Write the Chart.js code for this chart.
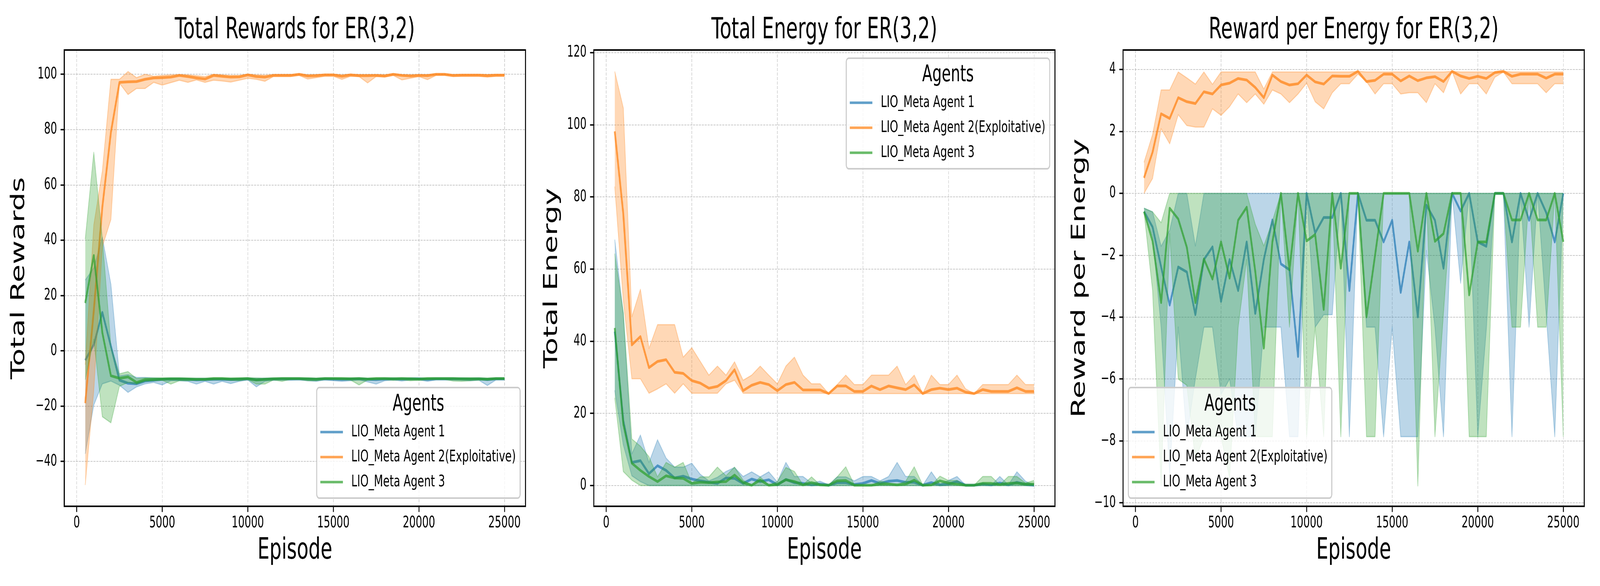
<!DOCTYPE html>
<html>
<head>
<meta charset="utf-8">
<title>ER(3,2) training curves</title>
<script src="https://cdn.jsdelivr.net/npm/chart.js@4.4.1/dist/chart.umd.min.js"></script>
<style>
  html, body { margin: 0; padding: 0; background: #fff; overflow: hidden; }
  #clip { position: absolute; left: 0; top: 0; overflow: hidden; }
  #stage { position: absolute; left: 0; top: 0; width: 6300px; height: 1500px; transform-origin: 0 0; }
  .panel { position: absolute; top: 0; width: 2100px; height: 1500px; }
</style>
</head>
<body>
<div id="clip">
  <div id="stage">
    <div class="panel" style="left:0px"><canvas id="rewards" width="2100" height="1500"></canvas></div>
    <div class="panel" style="left:2100px"><canvas id="energy" width="2100" height="1500"></canvas></div>
    <div class="panel" style="left:4200px"><canvas id="rpe" width="2100" height="1500"></canvas></div>
  </div>
</div>
<script>
// x values (episodes) and tick labels
const episodes = [500, 1000, 1500, 2000, 2500, 3000, 3500, 4000, 4500, 5000,
  5500, 6000, 6500, 7000, 7500, 8000, 8500, 9000, 9500, 10000,
  10500, 11000, 11500, 12000, 12500, 13000, 13500, 14000, 14500, 15000,
  15500, 16000, 16500, 17000, 17500, 18000, 18500, 19000, 19500, 20000,
  20500, 21000, 21500, 22000, 22500, 23000, 23500, 24000, 24500, 25000];
const episodeTicks = [0, 5000, 10000, 15000, 20000, 25000];
const rewardTicks = [-40, -20, 0, 20, 40, 60, 80, 100];
const energyTicks = [0, 20, 40, 60, 80, 100, 120];
const rpeTicks = [-10, -8, -6, -4, -2, 0, 2, 4];
const agentNames = ['LIO_Meta Agent 1', 'LIO_Meta Agent 2(Exploitative)', 'LIO_Meta Agent 3'];

// Total rewards
const rewardA1Mean = [-3.4, 2.2, 13.9, 1.7, -10.6, -11.7, -11.9, -10.9, -10.6, -10.3, -10.2, -10.2, -10.3, -10.5, -10.4, -10.3, -10.3, -10.4, -10.3, -10.1, -10.5, -10.3, -10.2, -10.1, -10.1, -10.1, -10.2, -10.3, -10.1, -10.2, -10.3, -10.2, -10.1, -10.3, -10.4, -10.2, -10.1, -10.2, -10.1, -10.1, -10.3, -10.1, -10.1, -10.1, -10.1, -10.2, -10.1, -10.4, -10.1, -10.1];
const rewardA1High = [25.6, 30.0, 41.1, 24.1, -9.0, -8.6, -9.6, -9.6, -9.8, -9.9, -9.8, -9.8, -9.9, -9.9, -9.9, -9.9, -9.9, -9.9, -9.9, -9.8, -9.9, -9.9, -9.8, -9.8, -9.8, -9.8, -9.8, -9.9, -9.8, -9.8, -9.9, -9.8, -9.8, -9.9, -9.9, -9.8, -9.8, -9.8, -9.8, -9.8, -9.9, -9.8, -9.8, -9.8, -9.8, -9.8, -9.8, -9.9, -9.8, -9.8];
const rewardA1Low = [-37.2, -19.6, -11.9, -10.9, -12.4, -15.0, -13.0, -11.9, -11.4, -12.3, -10.8, -10.8, -11.0, -12.0, -11.0, -12.0, -11.0, -11.8, -11.0, -10.5, -13.0, -11.0, -10.6, -10.5, -10.6, -10.5, -10.8, -11.0, -10.5, -10.8, -11.0, -10.8, -10.5, -11.2, -12.0, -10.8, -10.5, -10.9, -10.5, -10.5, -11.0, -10.5, -10.5, -10.5, -10.6, -10.8, -10.6, -12.5, -10.5, -10.5];
const rewardA2Mean = [-18.9, 14.5, 52.0, 79.0, 97.1, 97.3, 97.4, 98.2, 98.7, 98.8, 99.0, 99.6, 99.2, 98.7, 98.3, 99.6, 99.3, 99.0, 99.1, 99.8, 99.2, 99.0, 99.6, 99.6, 99.6, 100.0, 99.4, 99.5, 99.8, 99.8, 99.3, 99.8, 99.5, 99.5, 99.6, 99.4, 100.0, 99.6, 99.4, 99.6, 99.5, 100.0, 100.0, 99.6, 99.7, 99.7, 99.7, 99.5, 99.7, 99.7];
const rewardA2High = [-5.0, 45.5, 65.0, 98.2, 98.2, 101.0, 98.8, 100.0, 99.3, 99.6, 99.8, 99.9, 99.8, 99.5, 99.2, 100.0, 99.8, 99.6, 99.6, 100.0, 99.8, 99.7, 99.9, 99.9, 99.9, 100.2, 99.8, 99.9, 100.0, 100.0, 99.8, 100.0, 99.9, 99.9, 99.9, 99.8, 100.2, 99.9, 99.8, 99.9, 99.9, 100.2, 100.2, 99.9, 100.0, 100.0, 100.0, 99.9, 100.0, 100.0];
const rewardA2Low = [-48.5, -14.3, 37.7, 47.5, 96.8, 92.7, 94.9, 94.9, 97.1, 96.1, 97.0, 97.9, 97.1, 98.0, 97.1, 97.9, 97.6, 97.2, 97.9, 98.6, 98.2, 97.5, 99.2, 99.2, 99.2, 99.6, 98.3, 98.8, 99.3, 99.3, 98.2, 99.3, 99.2, 96.9, 99.2, 99.0, 99.6, 98.0, 98.6, 99.2, 98.1, 99.6, 99.6, 99.2, 99.3, 99.3, 99.3, 99.0, 99.3, 99.3];
const rewardA3Mean = [17.3, 34.5, 6.6, -9.0, -9.9, -9.4, -11.4, -10.4, -10.3, -10.2, -10.1, -10.1, -10.2, -10.3, -10.3, -10.0, -10.0, -10.2, -10.1, -10.0, -10.5, -10.3, -10.1, -10.0, -10.0, -10.0, -10.1, -10.2, -10.0, -10.0, -10.0, -10.1, -10.0, -10.2, -10.0, -10.0, -10.1, -10.0, -10.1, -10.2, -10.0, -10.0, -10.0, -10.0, -10.1, -10.1, -10.1, -10.2, -10.0, -10.0];
const rewardA3High = [40.4, 71.8, 40.7, 1.7, -8.3, -7.5, -10.0, -9.8, -9.8, -9.8, -9.8, -9.8, -9.8, -9.9, -9.9, -9.8, -9.8, -9.8, -9.8, -9.8, -9.8, -9.9, -9.8, -9.8, -9.8, -9.8, -9.8, -9.9, -9.8, -9.8, -9.8, -9.8, -9.8, -9.9, -9.8, -9.8, -9.8, -9.8, -9.8, -9.9, -9.8, -9.8, -9.8, -9.8, -9.8, -9.8, -9.8, -9.9, -9.8, -9.8];
const rewardA3Low = [-10.4, 4.2, -23.8, -26.0, -12.8, -11.4, -12.0, -11.0, -10.8, -10.6, -12.0, -10.8, -10.8, -10.5, -10.5, -10.5, -10.4, -10.6, -10.8, -10.3, -12.0, -12.0, -10.5, -11.0, -10.3, -10.3, -10.8, -10.8, -10.3, -10.3, -10.4, -10.5, -12.3, -10.5, -10.4, -10.3, -10.6, -10.4, -10.8, -10.6, -10.4, -10.3, -10.3, -10.9, -11.0, -10.8, -10.5, -10.6, -10.3, -10.3];

// Total energy
const energyA1Mean = [42.7, 18.0, 6.4, 6.9, 3.3, 5.5, 4.2, 2.1, 2.6, 1.8, 1.3, 0.9, 0.6, 2.1, 2.0, 0.6, 1.8, 1.1, 1.6, 0.2, 1.7, 0.8, 0.6, 0.2, 0.4, 0.1, 0.8, 0.8, 0.3, 0.6, 1.4, 0.6, 1.2, 1.4, 0.9, 0.9, 0.1, 0.8, 0.2, 0.4, 1.1, 0.1, 0.1, 0.4, 0.2, 0.7, 0.2, 0.9, 0.3, 0.1];
const energyA1High = [68.2, 47.6, 8.8, 14.0, 6.4, 12.7, 7.6, 5.1, 5.1, 6.2, 3.1, 1.3, 2.3, 3.9, 5.0, 2.5, 3.8, 2.4, 3.8, 1.0, 6.4, 2.5, 2.5, 0.7, 1.2, 0.2, 2.4, 2.4, 1.3, 2.5, 2.5, 1.3, 2.5, 6.4, 2.5, 2.5, 0.1, 3.8, 0.4, 1.4, 2.5, 0.1, 0.1, 0.7, 0.1, 2.5, 0.2, 3.8, 1.2, 0.1];
const energyA1Low = [26.4, 11.3, 2.7, 1.1, 0, 0, 0, 0, 0, 0, 0, 0, 0, 0, 0, 0, 0, 0, 0, 0, 0, 0, 0, 0, 0, 0, 0, 0, 0, 0, 0, 0, 0, 0, 0, 0, 0, 0, 0, 0, 0, 0, 0, 0, 0, 0, 0, 0, 0, 0];
const energyA2Mean = [98.2, 75.3, 39.0, 41.3, 32.7, 34.4, 34.9, 31.4, 31.1, 29.1, 28.4, 27.0, 27.5, 29.1, 32.1, 26.3, 27.8, 28.6, 28.0, 26.3, 28.0, 28.6, 26.5, 26.5, 26.5, 25.5, 27.6, 27.6, 26.1, 26.1, 27.6, 26.6, 27.6, 27.1, 26.6, 27.9, 25.5, 26.6, 27.0, 26.6, 27.0, 25.9, 25.5, 26.6, 26.1, 26.1, 26.1, 27.1, 26.1, 26.1];
const energyA2High = [114.8, 104.7, 46.8, 54.4, 38.0, 44.6, 44.6, 44.6, 35.6, 38.2, 34.4, 30.6, 33.1, 30.6, 34.3, 29.2, 30.6, 33.1, 30.6, 28.2, 33.1, 35.6, 30.6, 28.2, 28.2, 25.5, 28.0, 30.6, 28.0, 28.0, 30.6, 30.6, 30.6, 33.1, 28.0, 30.6, 25.5, 30.6, 28.0, 28.0, 30.6, 26.8, 25.5, 28.0, 28.0, 28.0, 28.0, 30.6, 28.0, 28.0];
const energyA2Low = [82.9, 51.3, 29.6, 29.6, 25.6, 26.8, 28.2, 25.6, 28.2, 25.6, 25.6, 25.6, 25.6, 28.2, 29.2, 25.6, 25.6, 25.6, 25.6, 25.6, 25.6, 25.6, 25.6, 25.6, 25.6, 25.5, 25.5, 25.5, 25.5, 25.5, 25.5, 25.5, 25.5, 25.5, 25.5, 25.5, 25.5, 25.5, 25.5, 25.5, 25.5, 25.5, 25.5, 25.5, 25.5, 25.5, 25.5, 25.5, 25.5, 25.5];
const energyA3Mean = [43.7, 17.1, 6.2, 4.2, 2.5, 1.1, 2.7, 2.1, 2.0, 0.6, 0.9, 0.8, 1.0, 1.1, 2.9, 0.8, 0.1, 1.5, 0.1, 0.3, 1.6, 1.1, 0.2, 0.8, 0.2, 0.1, 1.3, 1.4, 0.1, 0.1, 0.1, 0.4, 0.4, 0.2, 0.4, 1.5, 0.1, 0.2, 1.3, 0.7, 0.4, 0.1, 0.1, 0.6, 0.6, 0.3, 0.6, 0.7, 0.4, 0.4];
const energyA3High = [64.3, 48.0, 12.9, 10.9, 8.0, 2.4, 6.4, 5.1, 6.4, 0.7, 2.4, 2.4, 5.1, 2.7, 5.1, 1.5, 0.1, 2.4, 0.1, 1.1, 5.0, 3.9, 0.2, 2.4, 0.2, 0.1, 2.4, 5.2, 0.2, 0.1, 0.1, 1.2, 0.7, 0.2, 1.2, 5.2, 0.1, 0.1, 2.6, 1.4, 1.4, 0.1, 0.1, 2.5, 2.5, 0.2, 2.5, 2.5, 0.7, 1.4];
const energyA3Low = [24.3, 3.9, 1.5, 0, 0, 0, 0, 0, 0, 0, 0, 0, 0, 0, 0, 0, 0, 0, 0, 0, 0, 0, 0, 0, 0, 0, 0, 0, 0, 0, 0, 0, 0, 0, 0, 0, 0, 0, 0, 0, 0, 0, 0, 0, 0, 0, 0, 0, 0, 0];

// Reward per energy
const rpeA1Mean = [-0.59, -1.09, -2.38, -3.61, -2.38, -2.54, -3.92, -2.14, -1.73, -3.49, -2.14, -3.14, -1.57, -3.88, -2.14, -0.86, -2.28, -2.47, -5.27, 0, -1.28, -0.78, -0.78, 0, -3.14, 0, -0.87, -0.87, -1.57, -0.87, -3.20, -1.57, -3.99, -0.38, -0.87, -2.42, 0, -0.57, 0, -1.57, -1.71, 0, 0, -1.57, 0, -0.87, 0, -0.62, -1.57, 0];
const rpeA1High = [-0.48, -0.60, -1.71, -1.19, 0, 0, -1.70, 0, 0, 0, 0, 0, 0, 0, 0, 0, 0, 0, 0, 0, 0, 0, 0, 0, 0, 0, 0, 0, 0, 0, 0, 0, 0, 0, 0, 0, 0, 0, 0, 0, 0, 0, 0, 0, 0, 0, 0, 0, 0, 0];
const rpeA1Low = [-0.60, -1.40, -4.32, -9.07, -4.32, -7.86, -6.00, -4.32, -4.32, -6.50, -6.00, -7.86, -7.86, -7.86, -4.32, -4.32, -4.32, -7.86, -7.86, 0, -4.32, -3.92, -3.92, 0, -7.86, 0, -4.32, -4.32, -7.86, -4.32, -7.86, -7.86, -7.86, -1.85, -4.32, -7.86, 0, -2.90, 0, -7.86, -4.40, 0, 0, -7.86, 0, -4.32, 0, -3.90, -7.86, 0];
const rpeA2Mean = [0.50, 1.33, 2.57, 2.42, 3.09, 2.96, 2.90, 3.28, 3.21, 3.50, 3.56, 3.71, 3.66, 3.42, 3.09, 3.82, 3.61, 3.50, 3.54, 3.82, 3.60, 3.53, 3.79, 3.78, 3.78, 3.94, 3.61, 3.65, 3.85, 3.85, 3.63, 3.79, 3.64, 3.73, 3.77, 3.61, 3.94, 3.79, 3.71, 3.78, 3.71, 3.90, 3.94, 3.78, 3.85, 3.85, 3.85, 3.72, 3.85, 3.85];
const rpeA2High = [1.00, 1.90, 3.34, 3.34, 3.92, 3.73, 3.53, 3.92, 3.52, 3.92, 3.92, 3.92, 3.92, 3.92, 3.37, 3.92, 3.92, 3.92, 3.92, 3.92, 3.92, 3.92, 3.92, 3.92, 3.92, 3.94, 3.92, 3.92, 3.92, 3.92, 3.92, 3.92, 3.92, 3.92, 3.92, 3.92, 3.94, 3.92, 3.92, 3.92, 3.92, 3.92, 3.94, 3.92, 3.92, 3.92, 3.92, 3.92, 3.92, 3.92];
const rpeA2Low = [0.00, 0.48, 2.09, 1.60, 2.54, 2.19, 2.14, 2.14, 2.73, 2.52, 2.80, 3.21, 2.93, 3.21, 2.88, 3.34, 3.21, 2.93, 3.21, 3.56, 2.96, 2.73, 3.25, 3.54, 3.54, 3.85, 3.61, 3.21, 3.54, 3.54, 3.21, 3.25, 3.25, 2.93, 3.54, 3.25, 3.94, 3.21, 3.54, 3.54, 3.21, 3.75, 3.92, 3.54, 3.54, 3.54, 3.54, 3.25, 3.54, 3.54];
const rpeA3Mean = [-0.59, -1.55, -3.53, -0.48, -0.83, -1.74, -3.53, -2.12, -2.77, -1.57, -2.74, -0.87, -0.45, -2.52, -5.00, -1.57, 0, -2.47, 0, -1.54, -1.33, -3.75, 0, -2.42, 0, 0, -3.99, -2.00, 0, 0, 0, 0, -1.87, 0, -1.55, -1.30, 0, 0, -3.28, -1.57, -1.57, 0, 0, -0.86, -0.86, 0, -0.86, -0.86, 0, -1.57];
const rpeA3High = [-0.48, -0.60, -0.95, 0, 0, 0, 0, 0, 0, 0, 0, 0, 0, -1.00, -1.70, -0.90, 0, 0, 0, 0, 0, 0, 0, 0, 0, 0, 0, 0, 0, 0, 0, 0, 0, 0, 0, 0, 0, 0, 0, 0, 0, 0, 0, 0, 0, 0, 0, 0, 0, 0];
const rpeA3Low = [-0.60, -3.14, -9.45, -1.30, -6.00, -6.20, -8.60, -7.86, -7.86, -7.86, -9.20, -4.32, -2.14, -7.86, -7.86, -7.86, 0, -4.32, 0, -7.86, -4.32, -7.86, 0, -7.86, 0, 0, -7.86, -7.86, 0, 0, 0, 0, -9.45, 0, -7.86, -3.85, 0, 0, -7.86, -7.86, -7.86, 0, 0, -4.32, -4.32, 0, -4.32, -4.32, 0, -7.86];

// the layout is designed on a 6300x1500 stage; stretch it over the viewport we actually get
const fitX = (window.innerWidth / 6300) || 1;
const fitY = (window.innerHeight / 1500) || 1;
const stage = document.getElementById('stage');
const clip = document.getElementById('clip');
stage.style.transform = `scale(${fitX}, ${fitY})`;
clip.style.width = (6300 * fitX) + 'px';
clip.style.height = (1500 * fitY) + 'px';
const pixelRatio = Math.max(fitX, fitY, 1) * (window.devicePixelRatio || 1);

const FONT = '"DejaVu Sans", "Liberation Sans", sans-serif';
const tab = [[31, 119, 180], [255, 127, 14], [44, 160, 44]];
const rgba = (c, a) => `rgba(${c[0]},${c[1]},${c[2]},${a})`;
const minus = v => String(v).replace('-', '\u2212');

Chart.defaults.font.family = FONT;
Chart.defaults.color = '#000';

// mean line + shaded band (upper, lower filled to upper) for one agent
function agentSets(k, mean, low, high) {
  const pts = arr => episodes.map((x, i) => ({x: x, y: arr[i]}));
  const base = 5 - 2 * k;
  return [
    {label: agentNames[k], data: pts(mean), borderColor: rgba(tab[k], 0.7),
     borderWidth: 7, fill: false, order: base + 1, inLegend: true},
    {label: agentNames[k] + ' upper', data: pts(high), borderColor: rgba(tab[k], 0.3),
     borderWidth: 3, fill: false, order: base},
    {label: agentNames[k] + ' lower', data: pts(low), borderColor: rgba(tab[k], 0.3),
     borderWidth: 3, backgroundColor: rgba(tab[k], 0.3), fill: '-1', order: base}
  ];
}

// axes frame like matplotlib spines
const framePlugin = {
  id: 'frame',
  afterDatasetsDraw(chart) {
    const {ctx, chartArea: a} = chart;
    ctx.save();
    ctx.strokeStyle = '#000';
    ctx.lineWidth = 4;
    ctx.strokeRect(a.left, a.top, a.right - a.left, a.bottom - a.top);
    ctx.restore();
  }
};

// boxed legend drawn inside the plot area
const boxLegend = {
  id: 'boxLegend',
  afterDraw(chart, args, opts) {
    const {ctx, chartArea: a} = chart;
    const items = chart.data.datasets.filter(d => d.inLegend);
    ctx.save();
    ctx.font = `41.7px ${FONT}`;
    const textW = Math.max(...items.map(d => ctx.measureText(d.label).width));
    const w = 136 + textW + 17, h = 283, m = 21;
    const x = opts.corner.includes('right') ? a.right - m - w : a.left + m;
    const y = opts.corner.includes('lower') ? a.bottom - m - h : a.top + m;
    ctx.beginPath();
    ctx.roundRect(x, y, w, h, 10);
    ctx.fillStyle = 'rgba(255,255,255,0.8)';
    ctx.fill();
    ctx.lineWidth = 4;
    ctx.strokeStyle = '#cccccc';
    ctx.stroke();
    ctx.fillStyle = '#000';
    ctx.textBaseline = 'middle';
    ctx.textAlign = 'center';
    ctx.font = `58.3px ${FONT}`;
    ctx.fillText('Agents', x + w / 2, y + 44);
    ctx.textAlign = 'left';
    ctx.font = `41.7px ${FONT}`;
    items.forEach((d, i) => {
      const cy = y + 114 + 64 * i;
      ctx.beginPath();
      ctx.moveTo(x + 14, cy);
      ctx.lineTo(x + 103, cy);
      ctx.strokeStyle = d.borderColor;
      ctx.lineWidth = 6.5;
      ctx.stroke();
      ctx.fillText(d.label, x + 136, cy);
    });
    ctx.restore();
  }
};

function axisGrid() {
  return {
    color: 'rgba(176,176,176,0.8)', lineWidth: 1.7,
    borderDash: [8, 3.5], drawTicks: true, tickLength: 14.6, tickWidth: 3.5,
    tickColor: '#000', tickBorderDash: []
  };
}

function makeChart(id, spec) {
  const datasets = [].concat(
    agentSets(0, spec.a1[0], spec.a1[1], spec.a1[2]),
    agentSets(1, spec.a2[0], spec.a2[1], spec.a2[2]),
    agentSets(2, spec.a3[0], spec.a3[1], spec.a3[2])
  );
  return new Chart(document.getElementById(id), {
    type: 'line',
    data: {datasets: datasets},
    options: {
      responsive: false,
      devicePixelRatio: pixelRatio,
      animation: false,
      layout: {padding: {left: 0, right: spec.padRight, top: 0, bottom: 0}},
      elements: {point: {radius: 0}, line: {tension: 0, borderJoinStyle: 'round'}},
      scales: {
        x: {
          type: 'linear', min: -725, max: 26225,
          afterBuildTicks: s => { s.ticks = episodeTicks.map(v => ({value: v})); },
          afterFit: s => { s.height = 204; },
          grid: axisGrid(),
          border: {display: false, dash: [8, 3.5]},
          ticks: {font: {size: 40}, padding: 5, maxRotation: 0, autoSkip: false,
                  callback: v => String(v)},
          title: {display: true, text: 'Episode', font: {size: 75}, padding: {top: 0, bottom: 44}}
        },
        y: {
          type: 'linear', min: spec.yMin, max: spec.yMax,
          afterBuildTicks: s => { s.ticks = spec.yTicks.map(v => ({value: v})); },
          afterFit: s => { s.width = spec.yWidth; },
          grid: axisGrid(),
          border: {display: false, dash: [8, 3.5]},
          ticks: {font: {size: 40}, padding: 14, callback: v => minus(v)},
          title: {display: true, text: spec.yLabel, font: {size: 75}, padding: {top: spec.yTitlePad, bottom: 0}}
        }
      },
      plugins: {
        legend: {display: false},
        tooltip: {enabled: false},
        title: {display: true, text: spec.title, fullSize: false,
                font: {size: 75, weight: 'normal', lineHeight: 1.2},
                padding: {top: 34, bottom: 4}},
        boxLegend: {corner: spec.legendCorner}
      }
    },
    plugins: [framePlugin, boxLegend]
  });
}

makeChart('rewards', {
  title: 'Total Rewards for ER(3,2)', yLabel: 'Total Rewards',
  yMin: -56.2, yMax: 108.8, yTicks: rewardTicks, yWidth: 253, yTitlePad: 31, padRight: 31,
  legendCorner: 'lower right',
  a1: [rewardA1Mean, rewardA1Low, rewardA1High],
  a2: [rewardA2Mean, rewardA2Low, rewardA2High],
  a3: [rewardA3Mean, rewardA3Low, rewardA3High]
});

makeChart('energy', {
  title: 'Total Energy for ER(3,2)', yLabel: 'Total Energy',
  yMin: -5.75, yMax: 120.75, yTicks: energyTicks, yWidth: 238, yTitlePad: 29, padRight: 46,
  legendCorner: 'upper right',
  a1: [energyA1Mean, energyA1Low, energyA1High],
  a2: [energyA2Mean, energyA2Low, energyA2High],
  a3: [energyA3Mean, energyA3Low, energyA3High]
});

makeChart('rpe', {
  title: 'Reward per Energy for ER(3,2)', yLabel: 'Reward per Energy',
  yMin: -10.11, yMax: 4.63, yTicks: rpeTicks, yWidth: 222, yTitlePad: 7, padRight: 62,
  legendCorner: 'lower left',
  a1: [rpeA1Mean, rpeA1Low, rpeA1High],
  a2: [rpeA2Mean, rpeA2Low, rpeA2High],
  a3: [rpeA3Mean, rpeA3Low, rpeA3High]
});
</script>
</body>
</html>
